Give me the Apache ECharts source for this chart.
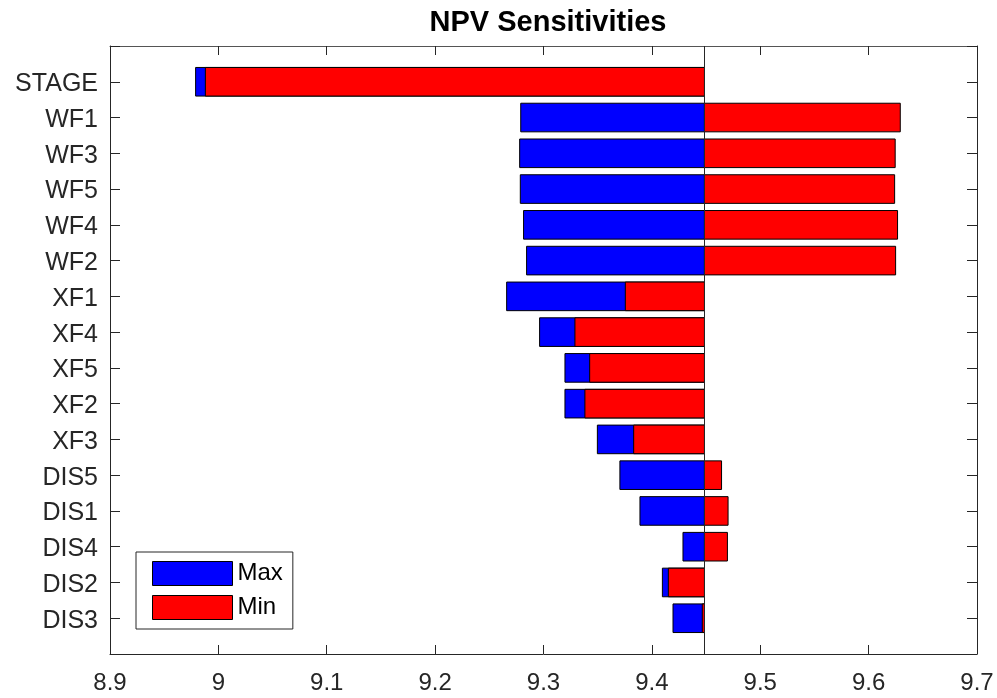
<!DOCTYPE html>
<html>
<head>
<meta charset="utf-8">
<title>NPV Sensitivities</title>
<script src="https://cdn.jsdelivr.net/npm/echarts@6/dist/echarts.min.js"></script>
<style>
  html, body { margin: 0; padding: 0; background: #fff; }
  #chart { width: 997px; height: 698px; }
</style>
</head>
<body>
<div id="chart"></div>
<script>
// Tornado chart: each driver's NPV at its max and min setting, drawn from the base NPV.
const categories = ['STAGE', 'WF1', 'WF3', 'WF5', 'WF4', 'WF2', 'XF1', 'XF4', 'XF5', 'XF2', 'XF3', 'DIS5', 'DIS1', 'DIS4', 'DIS2', 'DIS3'];
const maxValues = [8.979, 9.279, 9.278, 9.2786, 9.2816, 9.2844, 9.266, 9.2964, 9.3198, 9.3198, 9.3497, 9.3705, 9.389, 9.4287, 9.4097, 9.4195];
const minValues = [8.988, 9.6292, 9.6245, 9.624, 9.6267, 9.6249, 9.3755, 9.329, 9.3426, 9.3382, 9.3832, 9.4643, 9.4703, 9.4697, 9.4152, 9.4465];
const baseValue = 9.4485;
const xTicks = ['8.9', '9', '9.1', '9.2', '9.3', '9.4', '9.5', '9.6', '9.7'];

const FONT = "'Liberation Sans', Arial, Helvetica, sans-serif";
const AXIS_COLOR = '#262626';
const BAR_HEIGHT = 0.8;

function barRenderer() {
  return function (params, api) {
    const idx = api.value(0);
    const v = api.value(1);
    const p1 = api.coord([Math.min(v, baseValue), idx]);
    const p2 = api.coord([Math.max(v, baseValue), idx]);
    const h = api.size([0, BAR_HEIGHT])[1];
    return {
      type: 'rect',
      shape: { x: p1[0], y: p1[1] - h / 2, width: p2[0] - p1[0], height: h },
      style: api.style({ stroke: '#000', lineWidth: 1 })
    };
  };
}

const maxData = maxValues.map((v, i) => [i + 1, v]);
const minData = minValues.map((v, i) => [i + 1, v]);

const chart = echarts.init(document.getElementById('chart'), null, { renderer: 'canvas' });

const xLabel = v => {
  const s = (Math.round(v * 10) / 10).toString();
  return xTicks.includes(s) ? s : '';
};

chart.setOption({
  animation: false,
  backgroundColor: '#fff',
  title: {
    text: 'NPV Sensitivities',
    left: 543,
    top: 3,
    textAlign: 'center',
    textStyle: { fontFamily: FONT, fontSize: 29, fontWeight: 'bold', color: '#000' }
  },
  legend: {
    orient: 'vertical',
    left: 136,
    top: 552,
    padding: [9, 10, 9, 16],
    itemWidth: 80,
    itemHeight: 24,
    itemGap: 9,
    backgroundColor: '#fff',
    borderColor: AXIS_COLOR,
    borderWidth: 1,
    icon: 'rect',
    textStyle: { fontFamily: FONT, fontSize: 24, color: '#000' },
    data: [
      { name: 'Max', itemStyle: { color: '#0000ff', borderColor: '#000', borderWidth: 1 } },
      { name: 'Min', itemStyle: { color: '#ff0000', borderColor: '#000', borderWidth: 1 } }
    ]
  },
  grid: { left: 110, right: 20, top: 46, bottom: 44, containLabel: false },
  xAxis: [
    {
      type: 'value', position: 'bottom', min: 8.9, max: 9.7, interval: 0.1,
      axisLine: { show: true, onZero: false, lineStyle: { color: AXIS_COLOR, width: 1 } },
      axisTick: { show: true, inside: true, length: 9, lineStyle: { color: AXIS_COLOR, width: 1 } },
      axisLabel: { margin: 17, fontFamily: FONT, fontSize: 24, color: AXIS_COLOR, formatter: xLabel },
      splitLine: { show: false }
    },
    {
      type: 'value', position: 'top', min: 8.9, max: 9.7, interval: 0.1,
      axisLine: { show: true, onZero: false, lineStyle: { color: '#555', width: 1 } },
      axisTick: { show: true, inside: true, length: 9, lineStyle: { color: AXIS_COLOR, width: 1 } },
      axisLabel: { show: false },
      splitLine: { show: false }
    }
  ],
  yAxis: [
    {
      type: 'value', position: 'left', min: 0, max: 17, interval: 1, inverse: true,
      axisLine: { show: true, onZero: false, lineStyle: { color: AXIS_COLOR, width: 1 } },
      axisTick: { show: true, inside: true, length: 10, lineStyle: { color: AXIS_COLOR, width: 1 } },
      axisLabel: {
        margin: 12,
        formatter: v => (categories[v - 1] ? '{cat|' + categories[v - 1] + '}' : ''),
        rich: {
          cat: {
            fontFamily: FONT, fontSize: 25, color: AXIS_COLOR,
            lineHeight: 25, padding: [5, 0, 0, 0]
          }
        }
      },
      splitLine: { show: false }
    },
    {
      type: 'value', position: 'right', min: 0, max: 17, interval: 1, inverse: true,
      axisLine: { show: true, onZero: false, lineStyle: { color: AXIS_COLOR, width: 1 } },
      axisTick: { show: true, inside: true, length: 10, lineStyle: { color: AXIS_COLOR, width: 1 } },
      axisLabel: { show: false },
      splitLine: { show: false }
    }
  ],
  series: [
    {
      name: 'Max',
      type: 'custom',
      xAxisIndex: 0, yAxisIndex: 0,
      itemStyle: { color: '#0000ff', borderColor: '#000', borderWidth: 1 },
      encode: { x: 1, y: 0 },
      renderItem: barRenderer(),
      data: maxData,
      z: 2
    },
    {
      name: 'Min',
      type: 'custom',
      xAxisIndex: 0, yAxisIndex: 0,
      itemStyle: { color: '#ff0000', borderColor: '#000', borderWidth: 1 },
      encode: { x: 1, y: 0 },
      renderItem: barRenderer(),
      data: minData,
      z: 3,
      markLine: {
        silent: true,
        symbol: 'none',
        label: { show: false },
        lineStyle: { color: AXIS_COLOR, width: 1, type: 'solid' },
        data: [[{ coord: [baseValue, 0] }, { coord: [baseValue, 17] }]],
        z: 4
      }
    }
  ]
});
</script>
</body>
</html>
